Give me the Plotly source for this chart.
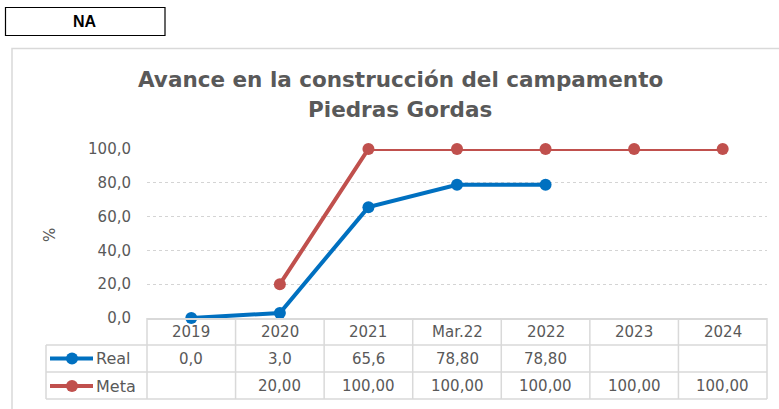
import plotly.graph_objects as go

categories = ["2019", "2020", "2021", "Mar.22", "2022", "2023", "2024"]
real = [0.0, 3.0, 65.6, 78.8, 78.8, None, None]
meta = [None, 20.0, 100.0, 100.0, 100.0, 100.0, 100.0]
real_labels = ["0,0", "3,0", "65,6", "78,80", "78,80", "", ""]
meta_labels = ["", "20,00", "100,00", "100,00", "100,00", "100,00", "100,00"]
series_names = ["Real", "Meta"]
colors = ["#0070C0", "#C0504D"]
y_ticks = [0, 20, 40, 60, 80, 100]

W, H = 779, 409
L, R, T, B = 147, 12, 149, 91
PW, PH = W - L - R, H - T - B

def px(x):
    return (x - L) / PW

def py(y):
    return (H - B - y) / PH

GRAY = "#595959"
LINE = "#D9D9D9"
FONT = "DejaVu Sans"

fig = go.Figure()
for name, vals, c in zip(series_names, [real, meta], colors):
    fig.add_trace(go.Scatter(
        x=categories, y=vals, name=name, mode="lines+markers",
        line=dict(color=c, width=4), marker=dict(color=c, size=12),
        cliponaxis=False, connectgaps=False, hoverinfo="skip"))

shapes = []
shapes.append(dict(type="rect", xref="paper", yref="paper",
                   x0=px(12), x1=px(790), y0=py(48.5), y1=py(420),
                   line=dict(color=LINE, width=1.5), layer="below"))
shapes.append(dict(type="rect", xref="paper", yref="paper",
                   x0=px(5.5), x1=px(165), y0=py(7.5), y1=py(35.5),
                   line=dict(color="#000000", width=1.2)))
for yy in [345, 372, 399]:
    shapes.append(dict(type="line", xref="paper", yref="paper",
                       x0=px(46), x1=1, y0=py(yy), y1=py(yy),
                       line=dict(color=LINE, width=1.5)))
n = len(categories)
for i in range(n + 1):
    shapes.append(dict(type="line", xref="paper", yref="paper",
                       x0=i / n, x1=i / n, y0=0, y1=py(399),
                       line=dict(color=LINE, width=1.5)))
shapes.append(dict(type="line", xref="paper", yref="paper",
                   x0=px(46), x1=px(46), y0=py(345), y1=py(399),
                   line=dict(color=LINE, width=1.5)))
for c, yy in zip(colors, [358.5, 386]):
    shapes.append(dict(type="line", xref="paper", yref="paper",
                       x0=px(50), x1=px(93), y0=py(yy), y1=py(yy),
                       line=dict(color=c, width=4)))
    shapes.append(dict(type="circle", xref="paper", yref="paper",
                       x0=px(66), x1=px(78), y0=py(yy - 6), y1=py(yy + 6),
                       fillcolor=c, line=dict(color=c, width=0)))

ann = []
tfont = dict(family=FONT, size=15, color=GRAY)

def note(x, y, text, font, xref="paper", xanchor="center", **kw):
    d = dict(x=x, xref=xref, y=y, yref="paper", text=text, showarrow=False,
             font=font, xanchor=xanchor, yanchor="middle")
    d.update(kw)
    ann.append(d)

for i, cat in enumerate(categories):
    note(i, py(331.5), cat, tfont, xref="x")
    note(i, py(358.5), real_labels[i], tfont, xref="x")
    note(i, py(386), meta_labels[i], tfont, xref="x")
for name, yy in zip(series_names, [358.5, 386]):
    note(px(94), py(yy), name, dict(family=FONT, size=16, color=GRAY), xanchor="left")
note(px(50), py(235), "%", dict(family=FONT, size=15, color=GRAY), textangle=-90)
note(px(400), py(80), "<b>Avance en la construcción del campamento</b>",
     dict(family=FONT, size=21.5, color=GRAY))
note(px(400), py(110), "<b>Piedras Gordas</b>", dict(family=FONT, size=21.5, color=GRAY))
note(px(85), py(21.5), "<b>NA</b>", dict(family="Liberation Sans", size=16, color="#000000"))

fig.update_layout(
    width=W, height=H, margin=dict(l=L, r=R, t=T, b=B),
    paper_bgcolor="white", plot_bgcolor="white",
    showlegend=False, separators=",.",
    shapes=shapes, annotations=ann,
    xaxis=dict(type="category", range=[-0.5, n - 0.5], showticklabels=False,
               showgrid=False, zeroline=False, showline=True,
               linecolor=LINE, linewidth=1.5, fixedrange=True),
    yaxis=dict(range=[0, 100], tickvals=y_ticks, tickformat=".1f",
               showgrid=True, gridcolor="#D4D4D4", griddash="dot", gridwidth=1,
               zeroline=False, showline=False, ticks="",
               ticklabelstandoff=15,
               tickfont=dict(family=FONT, size=15, color=GRAY), fixedrange=True),
)
fig.write_html("out.html", config={"displayModeBar": False},
               post_script="document.body.style.margin='0';")
